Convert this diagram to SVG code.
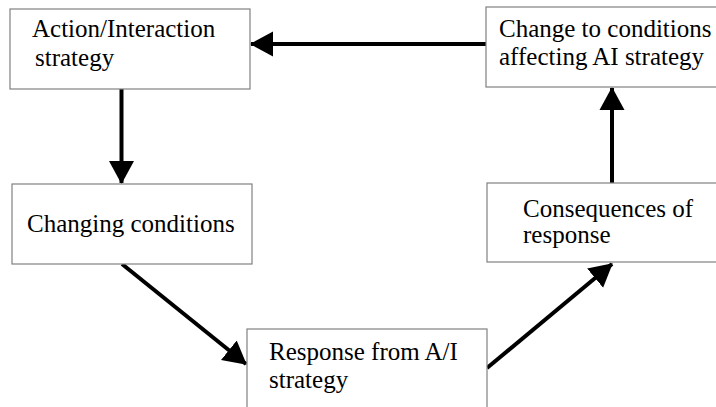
<svg xmlns="http://www.w3.org/2000/svg" width="716" height="407" viewBox="0 0 716 407">
  <defs>
    <style>
      .box { fill: #ffffff; stroke: #808080; stroke-width: 1.2; }
      .lbl { font-family: "Liberation Serif", "DejaVu Serif", serif; font-size: 25px; fill: #000000; }
      .edge { stroke: #000000; stroke-width: 4; fill: none; marker-end: url(#arrow); }
    </style>
    <marker id="arrow" markerUnits="userSpaceOnUse" markerWidth="24" markerHeight="26" refX="22" refY="12.5" orient="auto" viewBox="0 0 24 25">
      <path d="M0,0 L23,12.5 L0,25 Z" fill="#000000"/>
    </marker>
  </defs>
  <rect width="716" height="407" fill="#ffffff"/>

  <g id="connectors">
    <line class="edge" x1="486" y1="44" x2="251" y2="44"/>
    <line class="edge" x1="121.5" y1="89" x2="121.5" y2="183"/>
    <line class="edge" x1="122" y1="264" x2="246" y2="364"/>
    <line class="edge" x1="487" y1="368" x2="612" y2="264"/>
    <line class="edge" x1="612" y1="183" x2="612" y2="88"/>
  </g>

  <g id="node-action">
    <rect class="box" x="10" y="9" width="240" height="80"/>
    <text class="lbl" x="32" y="37" font-family="'Liberation Serif', 'DejaVu Serif', serif">Action/Interaction</text>
    <text class="lbl" x="35" y="66" font-family="'Liberation Serif', 'DejaVu Serif', serif">strategy</text>
  </g>

  <g id="node-change">
    <rect class="box" x="486" y="7" width="240" height="80"/>
    <text class="lbl" x="499" y="37" font-family="'Liberation Serif', 'DejaVu Serif', serif">Change to conditions</text>
    <text class="lbl" x="499" y="65" font-family="'Liberation Serif', 'DejaVu Serif', serif">affecting AI  strategy</text>
  </g>

  <g id="node-changing">
    <rect class="box" x="12" y="184" width="240" height="80"/>
    <text class="lbl" x="27" y="232" font-family="'Liberation Serif', 'DejaVu Serif', serif">Changing conditions</text>
  </g>

  <g id="node-consequences">
    <rect class="box" x="487" y="183" width="240" height="79"/>
    <text class="lbl" x="523" y="217" font-family="'Liberation Serif', 'DejaVu Serif', serif">Consequences of</text>
    <text class="lbl" x="523" y="243" font-family="'Liberation Serif', 'DejaVu Serif', serif">response</text>
  </g>

  <g id="node-response">
    <rect class="box" x="247" y="329" width="240" height="90"/>
    <text class="lbl" x="269" y="360" font-family="'Liberation Serif', 'DejaVu Serif', serif">Response from A/I</text>
    <text class="lbl" x="269" y="388" font-family="'Liberation Serif', 'DejaVu Serif', serif">strategy</text>
  </g>
</svg>
